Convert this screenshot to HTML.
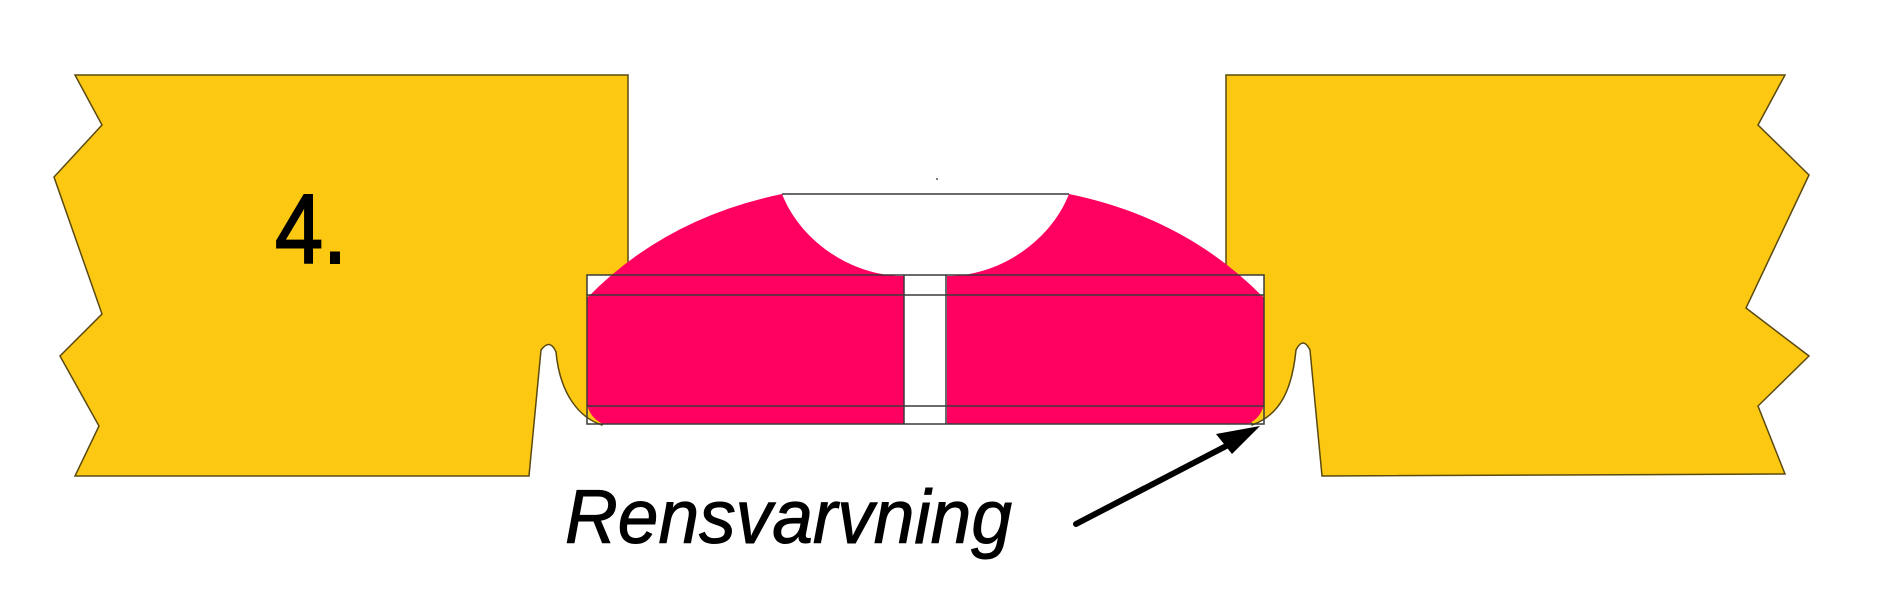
<!DOCTYPE html>
<html><head><meta charset="utf-8"><style>html,body{margin:0;padding:0;background:#fff}svg{display:block}</style></head>
<body>
<svg width="1886" height="603" viewBox="0 0 1886 603" xmlns="http://www.w3.org/2000/svg">
<rect width="1886" height="603" fill="#fff"/>
<path d="M75,75 L628,75 L628,275 L622,395 L602,425 C580,418 560,395 556,352 Q550,338 541,350 L529,476 L75,476 L99,426 L60,356 L102,314 L54,177 L102,125 Z" fill="#fcc812" stroke="#5a4a10" stroke-width="1.5"/>
<path d="M1226,75 L1785,75 L1758,125 L1809,175 L1746,308 L1809,356 L1758,406 L1785,474 L1322,476 L1310,350 Q1303,336 1296,350 C1292,390 1280,415 1252,425 L1240,400 L1226,275 Z" fill="#fcc812" stroke="#5a4a10" stroke-width="1.5"/>
<rect x="587" y="275" width="677" height="20" fill="#fff"/>
<path d="M587,298 Q665,218 782,194 C800,240 850,276 904,276 L904,424 L603,424 Q590,418 587,404 Z" fill="#ff0060"/>
<path d="M1264,298 Q1186,218 1069,194 C1051,240 1001,276 947,276 L947,424 L1248,424 Q1261,418 1264,404 Z" fill="#ff0060"/>
<rect x="904" y="275" width="42" height="149" fill="#fff"/>
<g stroke="#3a3a3a" stroke-width="1.5" fill="none">
<rect x="587" y="275" width="677" height="149"/>
<line x1="587" y1="295" x2="1264" y2="295"/>
<line x1="587" y1="406" x2="1264" y2="406"/>
<line x1="904" y1="275" x2="904" y2="424"/>
<line x1="946" y1="275" x2="946" y2="424"/>
<line x1="782" y1="194" x2="1069" y2="194"/>
</g>
<circle cx="937" cy="179" r="1" fill="#555"/>
<line x1="1076" y1="524" x2="1232" y2="443" stroke="#000" stroke-width="6" stroke-linecap="round"/>
<polygon points="1260,426 1216,434 1232,454" fill="#000"/>
<text x="275" y="263" font-family="Liberation Sans, sans-serif" font-size="98" textLength="72" lengthAdjust="spacingAndGlyphs" fill="#000" stroke="#000" stroke-width="2">4.</text>
<text x="565" y="543" font-family="Liberation Sans, sans-serif" font-style="italic" font-size="76" textLength="447" lengthAdjust="spacingAndGlyphs" fill="#000" stroke="#000" stroke-width="1">Rensvarvning</text>
</svg>
</body></html>
